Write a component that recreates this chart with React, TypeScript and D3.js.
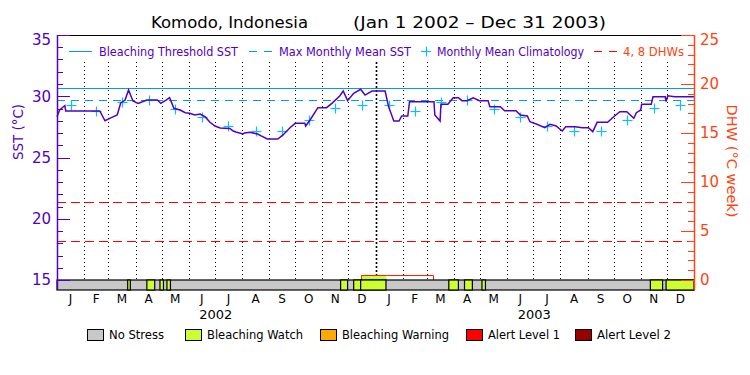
import React, { useEffect } from 'react';
import * as d3 from 'd3';

// ---------- data ----------
const titleSite = 'Komodo, Indonesia';
const titleRange = '(Jan 1 2002 – Dec 31 2003)';

// days since Jan 1 2002 and daily SST (°C)
const sstDays = [0, 3, 7, 9, 10, 49, 55, 61, 69, 73, 78, 82, 87, 93, 103, 115, 119, 125, 129, 134, 141, 147, 152, 158, 164, 170, 175, 181, 187, 198, 202, 205, 213, 215, 221, 230, 234, 241, 253, 259, 267, 273, 284, 285, 290, 299, 309, 315, 324, 328, 333, 340, 348, 353, 361, 376, 380, 386, 392, 395, 402, 404, 432, 433, 439, 440, 448, 454, 460, 464, 470, 477, 484, 494, 496, 508, 513, 526, 531, 539, 542, 550, 559, 565, 572, 579, 583, 594, 602, 609, 614, 619, 631, 638, 645, 653, 661, 664, 669, 670, 681, 683, 697, 698, 700, 708, 730];
const sstValues = [28.33, 28.88, 29.12, 29.23, 28.8, 28.8, 28.0, 28.22, 28.47, 29.45, 29.69, 30.51, 29.61, 29.42, 29.69, 29.69, 29.42, 29.69, 29.88, 29.02, 28.88, 28.66, 28.61, 28.47, 28.55, 28.31, 27.9, 27.57, 27.41, 27.37, 27.16, 27.08, 26.92, 27.0, 27.06, 26.92, 26.76, 26.51, 26.51, 26.84, 27.43, 27.79, 27.79, 27.57, 28.06, 29.07, 29.07, 29.42, 30.02, 30.43, 29.64, 30.24, 30.57, 30.1, 30.43, 30.43, 29.15, 27.98, 27.98, 28.39, 28.39, 29.56, 29.56, 28.47, 27.98, 29.34, 29.34, 29.88, 29.88, 29.64, 29.64, 29.88, 29.64, 29.64, 29.15, 29.15, 28.82, 28.82, 28.47, 28.39, 27.92, 27.71, 27.43, 27.71, 27.57, 27.16, 27.51, 27.51, 27.43, 27.43, 27.11, 27.87, 27.87, 28.33, 28.74, 28.74, 28.2, 28.66, 28.88, 29.34, 29.34, 29.96, 29.96, 29.56, 30.04, 29.96, 29.96];

// monthly mean climatology (Jan..Dec)
const climatology = [29.29, 28.82, 29.49, 29.7, 28.93, 28.28, 27.55, 27.16, 27.16, 28.1, 29.08, 29.3];
const maxMonthlyMean = 29.66;
const thresholdOffset = 1;
const dhwLevels = [4, 8];

const monthLabels = ['J', 'F', 'M', 'A', 'M', 'J', 'J', 'A', 'S', 'O', 'N', 'D'];
const yearLabels = ['2002', '2003'];
const sstTicks = [15, 20, 25, 30, 35];
const dhwTicks = [0, 5, 10, 15, 20, 25];

// bleaching watch periods (days since Jan 1 2002)
const watchStart = [81, 103, 118, 126, 325, 340, 348, 449, 467, 487, 680, 698];
const watchEnd = [84, 112, 122, 130, 333, 348, 377, 460, 476, 491, 694, 730];

// degree heating weeks
const dhwStart = [348, 377];
const dhwEnd = [377, 431];
const dhwValue = [0.5, 0.5];
const dhwLevel = [1, -1];

const stressNames = ['No Stress', 'Bleaching Watch', 'Bleaching Warning', 'Alert Level 1', 'Alert Level 2'];
const stressColors = ['#c8c8c8', '#ccff33', '#ffaa00', '#ff0000', '#990000'];

// ---------- styles ----------
const FONT = '"DejaVu Sans", "Liberation Sans", sans-serif';
const PURPLE = '#5000c8';
const ORANGE = '#ff4411';
const BLUE = '#0099ff';
const CYAN = '#11bbff';

const L = 57, R = 694, T = 35, B = 280, BAR = 290, GRID_TOP = 62;
const DAY0 = Date.UTC(2002, 0, 1);
const dayToDate = (d: number) => new Date(DAY0 + d * 86400000);
const px = (v: number) => Math.round(v) + 0.5;

export default function App() {
  useEffect(() => {
    document.body.style.margin = '0';
  }, []);

  const x = d3.scaleUtc().domain([new Date(DAY0), new Date(Date.UTC(2004, 0, 1))]).range([L, R]);
  const yS = d3.scaleLinear().domain([15, 35]).range([B, T]);
  const yD = d3.scaleLinear().domain([0, 25]).range([B, T]);

  const months = d3.utcMonth.range(new Date(DAY0), new Date(Date.UTC(2004, 0, 1)));
  const monthMid = (m: Date) => new Date((m.getTime() + d3.utcMonth.offset(m, 1).getTime()) / 2);

  const sstLine = d3.line<number>()
    .x((_, i) => x(dayToDate(sstDays[i])))
    .y((v) => yS(v))(sstValues) || '';

  const dhwPts: [number, number][] = [];
  dhwStart.forEach((s, i) => {
    if (i === 0) dhwPts.push([px(x(dayToDate(s))), yD(0)]);
    dhwPts.push([px(x(dayToDate(s))), px(yD(dhwValue[i]))]);
    dhwPts.push([px(x(dayToDate(dhwEnd[i]))), px(yD(dhwValue[i]))]);
  });
  dhwPts.push([px(x(dayToDate(dhwEnd[dhwEnd.length - 1]))), yD(0)]);
  const dhwPath = d3.line()(dhwPts) || '';

  const minorS = d3.range(15, 36, 1);
  const minorD = d3.range(0, 26, 1);

  const legendTop = [
    { kind: 'solid', x0: 69, x1: 92, color: BLUE, text: 'Bleaching Threshold SST', tx: 99, tw: 139, tc: PURPLE },
    { kind: 'dash', x0: 249, x1: 273, color: BLUE, text: 'Max Monthly Mean SST', tx: 279, tw: 132, tc: PURPLE },
    { kind: 'plus', x0: 426, x1: 426, color: CYAN, text: 'Monthly Mean Climatology', tx: 437, tw: 147, tc: PURPLE },
    { kind: 'reddash', x0: 594, x1: 617, color: '#ff0000', text: '4, 8 DHWs', tx: 623, tw: 61, tc: ORANGE },
  ];
  const legendBottomX = [87, 185, 320, 466, 575];
  const legendBottomW = [57, 98, 109, 74, 76];

  return (
    <div style={{ position: 'fixed', left: 0, top: 0 }}>
      <svg width={750} height={375} style={{ display: 'block', background: '#fff' }} fontFamily={FONT}>
        <rect x={0} y={0} width={750} height={375} fill="#fff" />
        {/* title */}
        <text x={151} y={28} fontSize={16} fill="#000" textLength={157} lengthAdjust="spacingAndGlyphs">{titleSite}</text>
        <text x={353} y={28} fontSize={16} fill="#000" textLength={253} lengthAdjust="spacingAndGlyphs">{titleRange}</text>

        {/* month grid */}
        {months.slice(1).map((m, i) => {
          const isYear = m.getUTCMonth() === 0;
          return (
            <line key={'g' + i} x1={px(x(m))} x2={px(x(m))} y1={GRID_TOP} y2={B} stroke="#000"
              strokeWidth={isYear ? 1.6 : 1} strokeDasharray={isYear ? '2,2' : '1,3'} />
          );
        })}

        {/* DHW lines */}
        {dhwLevels.map((v) => (
          <line key={'d' + v} x1={L} x2={R} y1={px(yD(v))} y2={px(yD(v))} stroke="#ff0000" strokeWidth={1} strokeDasharray="9,5" />
        ))}
        {/* MMM and threshold */}
        <line x1={L} x2={R} y1={px(yS(maxMonthlyMean))} y2={px(yS(maxMonthlyMean))} stroke={BLUE} strokeWidth={1} strokeDasharray="8,6" />
        <line x1={L} x2={R} y1={px(yS(maxMonthlyMean + thresholdOffset))} y2={px(yS(maxMonthlyMean + thresholdOffset))} stroke={BLUE} strokeWidth={1} />

        {/* climatology markers */}
        {months.map((m, i) => {
          const cx = px(x(monthMid(m)));
          const cy = px(yS(climatology[m.getUTCMonth()]));
          return (
            <g key={'c' + i} stroke={CYAN} strokeWidth={1.2}>
              <line x1={cx - 5} x2={cx + 5} y1={cy} y2={cy} />
              <line x1={cx} x2={cx} y1={cy - 5} y2={cy + 5} />
            </g>
          );
        })}

        {/* SST line */}
        <path d={sstLine} fill="none" stroke={PURPLE} strokeWidth={1.5} strokeLinejoin="miter" />

        {/* DHW area */}
        {dhwStart.map((s, i) => dhwLevel[i] >= 0 ? (
          <rect key={'da' + i} x={px(x(dayToDate(s)))} width={px(x(dayToDate(dhwEnd[i]))) - px(x(dayToDate(s)))}
            y={px(yD(dhwValue[i]))} height={yD(0) - px(yD(dhwValue[i]))} fill={stressColors[dhwLevel[i]]} />
        ) : null)}
        <path d={dhwPath} fill="none" stroke="#ff2200" strokeWidth={1} />

        {/* stress bar */}
        <rect x={L} y={B} width={R - L} height={BAR - B} fill={stressColors[0]} stroke="#000" strokeWidth={1.2} />
        {watchStart.map((s, i) => (
          <rect key={'w' + i} x={x(dayToDate(s))} y={B} width={x(dayToDate(watchEnd[i])) - x(dayToDate(s))}
            height={BAR - B} fill={stressColors[1]} stroke="#000" strokeWidth={1.2} />
        ))}

        {/* top border */}
        <line x1={L} x2={R} y1={px(T)} y2={px(T)} stroke="#000" strokeWidth={1.2} />

        {/* left axis */}
        <line x1={px(L)} x2={px(L)} y1={T} y2={BAR} stroke={PURPLE} strokeWidth={1.5} />
        {minorS.map((v) => (
          <line key={'ls' + v} x1={L} x2={L + (v % 5 === 0 ? 13 : 6)} y1={px(yS(v))} y2={px(yS(v))} stroke={PURPLE} strokeWidth={1} />
        ))}
        {sstTicks.map((v) => (
          <text key={'lt' + v} x={51} y={Math.max(yS(v), 40)} dy="0.36em" textAnchor="end" fontSize={15} fill={PURPLE}>{v}</text>
        ))}
        <text transform="translate(23,132) rotate(-90)" textAnchor="middle" fontSize={14} fill={PURPLE} textLength={56} lengthAdjust="spacingAndGlyphs">SST (°C)</text>

        {/* right axis */}
        <line x1={px(R)} x2={px(R)} y1={T} y2={BAR} stroke={ORANGE} strokeWidth={1.5} />
        {minorD.map((v) => (
          <line key={'rs' + v} x1={R - (v % 5 === 0 ? 13 : 6)} x2={R} y1={px(yD(v))} y2={px(yD(v))} stroke={ORANGE} strokeWidth={1} />
        ))}
        {dhwTicks.map((v) => (
          <text key={'rt' + v} x={700} y={Math.max(yD(v), 40)} dy="0.36em" textAnchor="start" fontSize={15} fill={ORANGE}>{v}</text>
        ))}
        <text transform="translate(727,161) rotate(90)" textAnchor="middle" fontSize={14} fill={ORANGE} textLength={113} lengthAdjust="spacingAndGlyphs">DHW (°C week)</text>

        {/* top legend */}
        {legendTop.map((d, i) => (
          <g key={'lg' + i}>
            {d.kind === 'plus' ? (
              <g stroke={d.color} strokeWidth={1.2}>
                <line x1={d.x0 - 5} x2={d.x0 + 5} y1={51.5} y2={51.5} />
                <line x1={d.x0 + 0.5} x2={d.x0 + 0.5} y1={46.5} y2={56.5} />
              </g>
            ) : (
              <line x1={d.x0} x2={d.x1} y1={51.5} y2={51.5} stroke={d.color}
                strokeDasharray={d.kind === 'solid' ? undefined : '8,7'} />
            )}
            <text x={d.tx} y={51.5} dy="0.36em" fontSize={12} fill={d.tc} textLength={d.tw} lengthAdjust="spacingAndGlyphs">{d.text}</text>
          </g>
        ))}

        {/* month labels */}
        {months.map((m, i) => (
          <text key={'m' + i} x={x(monthMid(m))} y={299} dy="0.36em" textAnchor="middle" fontSize={12} fill="#000">
            {monthLabels[m.getUTCMonth()]}
          </text>
        ))}
        {yearLabels.map((y, i) => (
          <text key={'y' + i} x={x(new Date(Date.UTC(2002 + i, 6, 2)))} y={314} dy="0.36em" textAnchor="middle" fontSize={13} fill="#000">{y}</text>
        ))}

        {/* bottom legend */}
        {stressNames.map((n, i) => (
          <g key={'bl' + i}>
            <rect x={legendBottomX[i] + 0.5} y={329.5} width={16} height={11} fill={stressColors[i]} stroke="#000" strokeWidth={1} />
            <text x={legendBottomX[i] + 22} y={335} dy="0.36em" fontSize={12} fill="#000" textLength={legendBottomW[i] - 2} lengthAdjust="spacingAndGlyphs">{n}</text>
          </g>
        ))}
      </svg>
    </div>
  );
}
